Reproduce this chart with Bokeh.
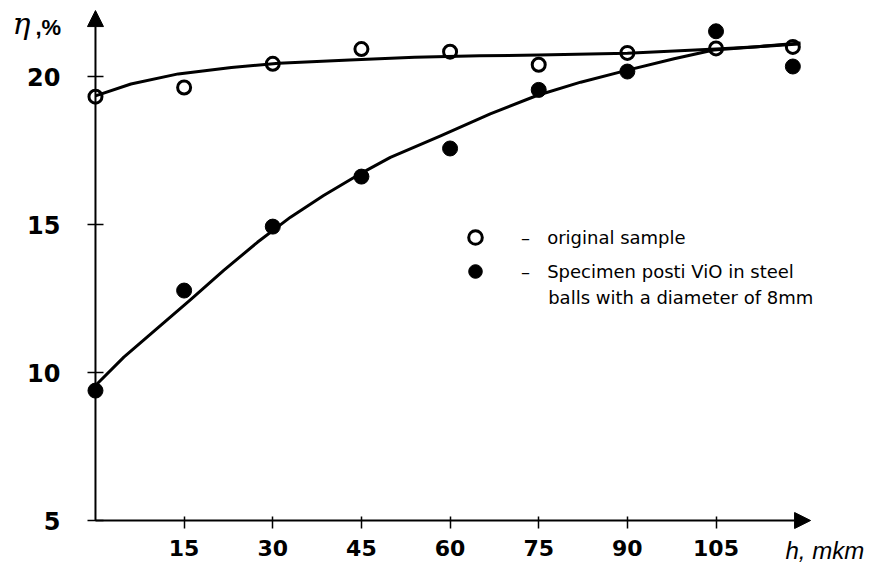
from bokeh.plotting import figure
from bokeh.models import Range1d, FixedTicker, Arrow, NormalHead, Label, Legend, LegendItem, LinearAxis
from bokeh.embed import file_html
from bokeh.resources import INLINE

# measured points
h = [0, 15, 30, 45, 60, 75, 90, 105, 118]
eta_original = [19.32, 19.63, 20.43, 20.93, 20.84, 20.40, 20.80, 20.95, 21.00]
eta_vio = [9.39, 12.77, 14.93, 16.62, 17.57, 19.55, 20.17, 21.53, 20.34]

# hand-drawn trend curves
fit_original_h = [0, 6, 14, 23, 31, 43, 54, 65, 75, 90, 105, 112, 119]
fit_original = [19.35, 19.75, 20.09, 20.31, 20.45, 20.56, 20.65, 20.70, 20.73, 20.79, 20.93, 21.01, 21.10]
fit_vio_h = [0.3, 4.8, 10.4, 16.1, 21.7, 27.4, 33.0, 38.6, 44.3, 49.9, 58.4, 66.8, 74.7, 82.1,
             89.7, 97.9, 104.6, 112.0, 119.3]
fit_vio = [9.62, 10.52, 11.48, 12.46, 13.45, 14.40, 15.25, 15.98, 16.66, 17.27, 18.00, 18.74,
           19.36, 19.81, 20.20, 20.60, 20.90, 21.01, 21.13]

x_ticks = [15, 30, 45, 60, 75, 90, 105]
y_ticks = [5, 10, 15, 20]

label_original = "–   original sample"
label_vio_1 = "–   Specimen posti ViO in steel"
label_vio_2 = "balls with a diameter of 8mm"
x_title = "h, mkm"
y_title_symbol = "η"
y_title_unit = ",%"

p = figure(width=881, height=565, output_backend="svg", toolbar_location=None, title=None,
           x_range=Range1d(-16.07, 133.0), y_range=Range1d(3.48, 22.57),
           x_axis_location=None, y_axis_location=None,
           min_border_left=0, min_border_right=0, min_border_top=0, min_border_bottom=0)
p.xgrid.visible = False
p.ygrid.visible = False
p.outline_line_color = None
p.background_fill_color = "white"
p.border_fill_color = "white"

xaxis = LinearAxis(fixed_location=5, ticker=FixedTicker(ticks=x_ticks))
yaxis = LinearAxis(fixed_location=0, ticker=FixedTicker(ticks=y_ticks))
for ax in (xaxis, yaxis):
    ax.axis_line_color = None
    ax.minor_tick_line_color = None
    ax.major_tick_line_color = "black"
    ax.major_tick_line_width = 1.5
    ax.major_label_text_font = "DejaVu Sans"
    ax.major_label_text_font_style = "bold"
    ax.major_label_text_color = "black"
xaxis.major_label_text_font_size = "22px"
xaxis.major_tick_in = 4
xaxis.major_tick_out = 8
xaxis.major_label_standoff = 11
yaxis.major_label_text_font_size = "24px"
yaxis.major_tick_in = 8
yaxis.major_tick_out = 8
yaxis.major_label_standoff = 27
p.add_layout(xaxis, "below")
p.add_layout(yaxis, "left")

# axis lines with arrowheads
p.add_layout(Arrow(end=NormalHead(size=16, fill_color="black", line_color="black", line_width=1),
                   x_start=0, y_start=5, x_end=121, y_end=5, line_width=2, line_color="black"))
p.add_layout(Arrow(end=NormalHead(size=16, fill_color="black", line_color="black", line_width=1),
                   x_start=0, y_start=5, x_end=0, y_end=22.23, line_width=2, line_color="black"))

# curves
p.line(fit_original_h, fit_original, line_width=3, line_color="black", line_join="round")
p.line(fit_vio_h, fit_vio, line_width=3, line_color="black", line_join="round")

# points
r_open = p.scatter(h, eta_original, marker="circle", size=13, fill_alpha=0,
                   line_color="black", line_width=3)
r_vio = p.scatter(h, eta_vio, marker="circle", size=15, fill_color="black", line_color="black")

legend = Legend(items=[LegendItem(label=label_original, renderers=[r_open]),
                       LegendItem(label=label_vio_1, renderers=[r_vio])],
                location=(457, 277), border_line_color=None, background_fill_alpha=0,
                label_text_font="DejaVu Sans", label_text_font_size="18px", label_text_color="black",
                glyph_width=36, glyph_height=34, label_height=34, label_standoff=28,
                spacing=0, padding=0, margin=0)
p.add_layout(legend)
p.add_layout(Label(x=76.6, y=12.53, text=label_vio_2, text_font="DejaVu Sans", text_font_size="18px",
                   text_color="black", text_baseline="middle"))

# axis titles
p.add_layout(Label(x=-14.05, y=21.79, text=y_title_symbol, text_font="DejaVu Serif", text_font_style="italic",
                   text_font_size="30px", text_color="black", text_baseline="alphabetic"))
p.add_layout(Label(x=-10.15, y=21.66, text=y_title_unit, text_font="Liberation Sans", text_font_style="bold",
                   text_font_size="22px", text_color="black", text_baseline="alphabetic"))
p.add_layout(Label(x=116.75, y=4.0, text=x_title, text_font="Liberation Sans", text_font_style="italic",
                   text_font_size="24px", text_color="black", text_baseline="alphabetic"))

open("out.html", "w").write(file_html(p, INLINE))
